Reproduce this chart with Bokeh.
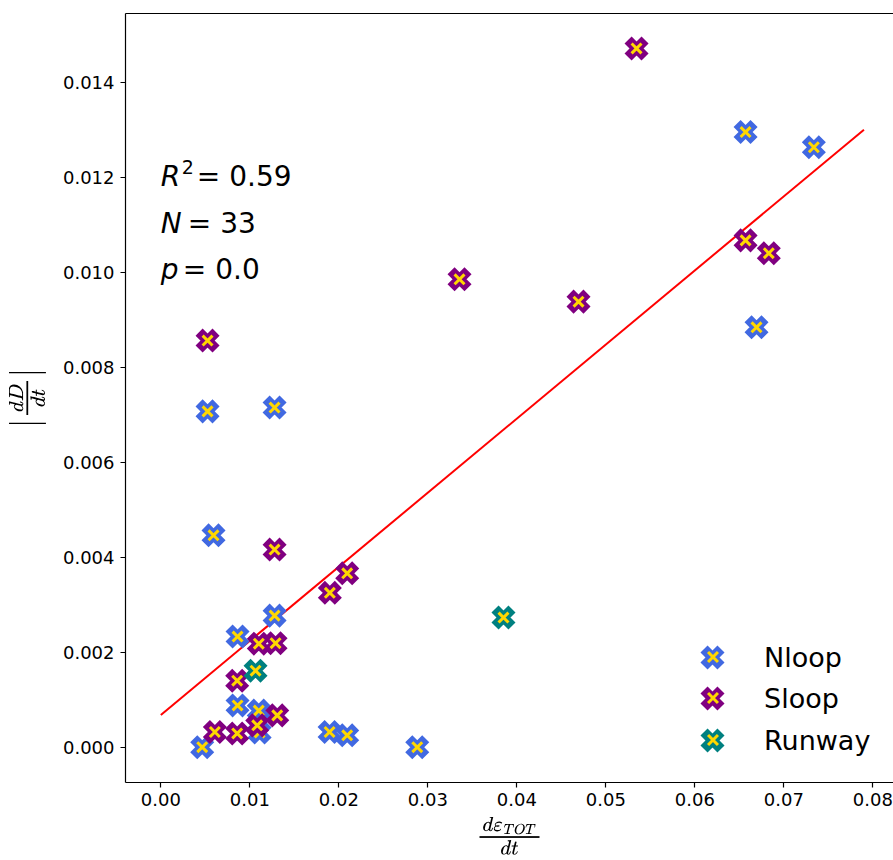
from bokeh.plotting import figure
from bokeh.models import Range1d, FixedTicker, Label, Legend, LegendItem, LinearAxis
from bokeh.embed import file_html
from bokeh.resources import INLINE

# ---- data ----
nloop_x = [0.00465, 0.00525, 0.00592, 0.00862, 0.00862, 0.01100, 0.01110, 0.01278,
           0.01278, 0.01896, 0.02094, 0.02881, 0.06570, 0.07337, 0.06693]
nloop_y = [0.00000, 0.00707, 0.00446, 0.00233, 0.00088, 0.00077, 0.00031, 0.00715,
           0.00277, 0.00032, 0.00025, 0.00000, 0.01295, 0.01263, 0.00884]

sloop_x = [0.00525, 0.00607, 0.00858, 0.00858, 0.01083, 0.01308, 0.01101, 0.01289,
           0.01278, 0.01899, 0.02094, 0.03356, 0.04693, 0.05345, 0.06570, 0.06831]
sloop_y = [0.00856, 0.00032, 0.00029, 0.00140, 0.00046, 0.00067, 0.00218, 0.00219,
           0.00416, 0.00325, 0.00366, 0.00985, 0.00938, 0.01471, 0.01067, 0.01040]

runway_x = [0.01064, 0.03850]
runway_y = [0.00161, 0.00273]

fit_x = [0.0, 0.0790]
fit_y = [0.00068, 0.01300]

group_names = ["Nloop", "Sloop", "Runway"]
group_colors = ["royalblue", "purple", "teal"]

x_ticks = [0.00, 0.01, 0.02, 0.03, 0.04, 0.05, 0.06, 0.07, 0.08]
x_tick_labels = ["0.00", "0.01", "0.02", "0.03", "0.04", "0.05", "0.06", "0.07", "0.08"]
y_ticks = [0.000, 0.002, 0.004, 0.006, 0.008, 0.010, 0.012, 0.014]
y_tick_labels = ["0.000", "0.002", "0.004", "0.006", "0.008", "0.010", "0.012", "0.014"]

stat_symbols = ["R", "N", "p"]
stat_texts = ["= 0.59", "= 33", "= 0.0"]

FONT = "DejaVu Sans"
OUTER_SIZE, OUTER_LW = 24, 10
INNER_SIZE, INNER_LW = 14, 3

p = figure(width=893, height=860, output_backend="svg", toolbar_location=None,
           x_range=Range1d(-0.00397, 0.08232), y_range=Range1d(-0.000743, 0.015446),
           min_border_left=125, min_border_right=0, min_border_top=13, min_border_bottom=78)

p.xgrid.visible = False
p.ygrid.visible = False
p.outline_line_color = None
p.background_fill_color = "white"
p.border_fill_color = "white"

xa = p.below[0]
ya = p.left[0]

for ax in (xa, ya):
    ax.major_label_text_font = FONT
    ax.major_label_text_font_size = "18px"
    ax.major_label_text_color = "black"
    ax.major_tick_in = 0
    ax.major_tick_out = 5
    ax.major_tick_line_width = 1.2
    ax.minor_tick_line_color = None
    ax.axis_line_width = 1.2
    ax.axis_line_color = "black"
    ax.major_tick_line_color = "black"
    ax.axis_label_text_font_size = "24px"
    ax.axis_label_text_font_style = "normal"
    ax.axis_label_text_color = "black"

xa.ticker = FixedTicker(ticks=x_ticks)
xa.major_label_overrides = dict(zip(x_ticks, x_tick_labels))
ya.ticker = FixedTicker(ticks=y_ticks)
ya.major_label_overrides = dict(zip(y_ticks, y_tick_labels))
xa.major_label_standoff = 5
ya.major_label_standoff = 6
xa.axis_label = r"\(\frac{d\varepsilon_{TOT}}{dt}\)"
ya.axis_label = r"\(\left|\frac{dD}{dt}\right|\)"
xa.axis_label_standoff = 8
ya.axis_label_standoff = 14

# top spine (no ticks, no labels)
top = LinearAxis(ticker=FixedTicker(ticks=[]), axis_line_color="black", axis_line_width=1.2,
                 major_tick_line_color=None, minor_tick_line_color=None)
p.add_layout(top, "above")

# regression line
p.line(fit_x, fit_y, line_color="red", line_width=2)

outer_r, inner_r = [], []
for xs, ys, col in zip([nloop_x, sloop_x, runway_x], [nloop_y, sloop_y, runway_y], group_colors):
    o = p.scatter(xs, ys, marker="x", size=OUTER_SIZE, line_color=col, line_width=OUTER_LW)
    i = p.scatter(xs, ys, marker="x", size=INNER_SIZE, line_color="gold", line_width=INNER_LW)
    outer_r.append(o)
    inner_r.append(i)

# legend: one small legend per row so the two marker layers keep their own sizes
row_centers = [125, 84, 42]   # px above the frame bottom
glyph_cx = 587                # px right of the frame left
ob = int(OUTER_SIZE / 0.4)
ib = int(INNER_SIZE / 0.4)
for name, o, cy in zip(group_names, outer_r, row_centers):
    p.add_layout(Legend(items=[LegendItem(label=name, renderers=[o])],
                        location=(glyph_cx - ob // 2, cy - ob // 2),
                        glyph_width=ob, glyph_height=ob, padding=0, margin=0,
                        label_standoff=22, label_text_font=FONT, label_text_font_size="27px",
                        label_text_color="black", border_line_color=None,
                        background_fill_alpha=0))
for i, cy in zip(inner_r, row_centers):
    p.add_layout(Legend(items=[LegendItem(label="", renderers=[i])],
                        location=(glyph_cx - ib // 2, cy - ib // 2),
                        glyph_width=ib, glyph_height=ib, padding=0, margin=0,
                        label_standoff=0, label_width=0,
                        border_line_color=None, background_fill_alpha=0))

# statistics text
stat_base_y = [0.011825, 0.010836, 0.009868]
text_offsets = [36, 27, 22]
for sym, txt, yb, off in zip(stat_symbols, stat_texts, stat_base_y, text_offsets):
    p.add_layout(Label(x=0.0, y=yb, y_offset=9, text=sym, text_font=FONT, text_font_size="28px",
                       text_font_style="italic", text_baseline="alphabetic", text_color="black"))
    p.add_layout(Label(x=0.0, y=yb, x_offset=off, y_offset=9, text=txt, text_font=FONT,
                       text_font_size="28px", text_baseline="alphabetic", text_color="black"))
p.add_layout(Label(x=0.0, y=stat_base_y[0], x_offset=21, y_offset=19, text="2", text_font=FONT,
                   text_font_size="19px", text_baseline="alphabetic", text_color="black"))

open("out.html", "w").write(file_html(p, INLINE))
